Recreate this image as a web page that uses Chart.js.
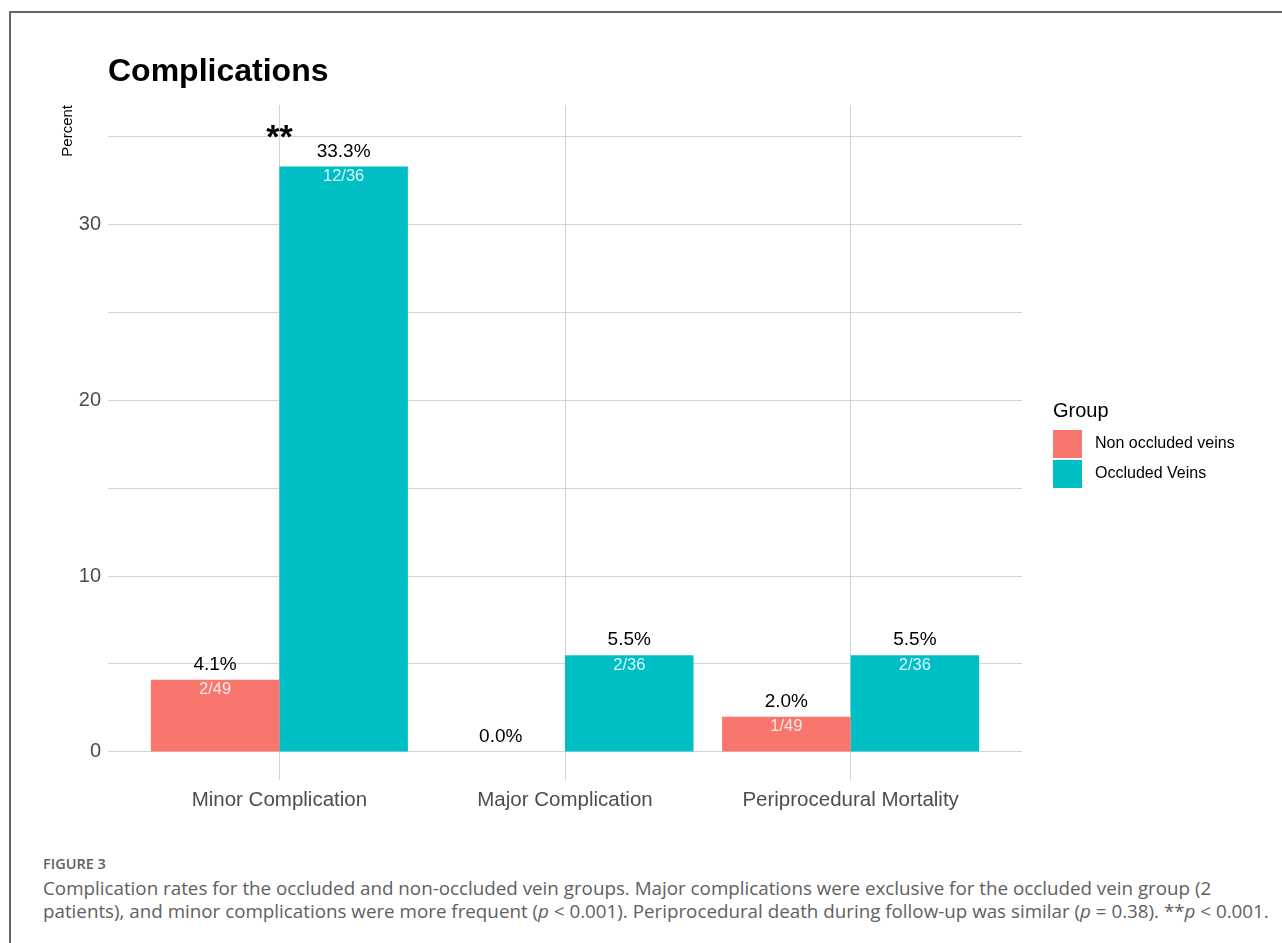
<!DOCTYPE html>
<html><head><meta charset="utf-8">
<script src="https://cdn.jsdelivr.net/npm/chart.js@4/dist/chart.umd.min.js"></script>
<style>
html,body{margin:0;padding:0;background:#fff;width:1282px;height:943px;overflow:hidden;}
#frame{position:absolute;left:9px;top:11px;width:1300px;height:960px;border-top:2px solid #666;border-left:2px solid #666;}
#wrap{position:absolute;left:0;top:0;width:1282px;height:830px;}
#cap{position:absolute;left:43px;top:855px;font-family:"Open Sans",sans-serif;color:#606060;white-space:nowrap;}
#cap .fig{font-size:14.5px;line-height:18px;font-weight:600;margin-bottom:3.5px;}
#cap .txt{font-size:18.8px;line-height:23px;}
</style></head>
<body>
<div id="frame"></div>
<div id="wrap"><canvas id="c" width="1282" height="830"></canvas></div>
<div id="cap">
<div class="fig">FIGURE 3</div>
<div class="txt">Complication rates for the occluded and non-occluded vein groups. Major complications were exclusive for the occluded vein group (2<br>patients), and minor complications were more frequent (<i>p</i> &lt; 0.001). Periprocedural death during follow-up was similar (<i>p</i> = 0.38). **<i>p</i> &lt; 0.001.</div>
</div>
<script>
const chartTitle = 'Complications';
const categories = ['Minor Complication', 'Major Complication', 'Periprocedural Mortality'];
const seriesNames = ['Non occluded veins', 'Occluded Veins'];
const seriesColors = ['#F8766D', '#00BFC4'];
const nonOccluded = [4.1, 0.0, 2.0];
const occluded = [33.3, 5.5, 5.5];
const nonOccludedCounts = ['2/49', '', '1/49'];
const occludedCounts = ['12/36', '2/36', '2/36'];
const significance = ['**', '', ''];
const yGridValues = [0, 5, 10, 15, 20, 25, 30, 35];
const yTickLabels = [0, 10, 20, 30];
const yMin = -1.6, yMax = 36.8;

const FONT = '"Liberation Sans", Arial, sans-serif';

const seriesValues = [nonOccluded, occluded];
const seriesCounts = [nonOccludedCounts, occludedCounts];

const datasets = seriesNames.map((name, s) => ({
  label: name,
  data: seriesValues[s].map((v, i) => ({x: i, y: v})),
  backgroundColor: seriesColors[s],
  borderWidth: 0,
  barPercentage: 1.0,
  categoryPercentage: 0.9,
  counts: seriesCounts[s]
}));

const decor = {
  id: 'decor',
  afterDatasetsDraw(chart) {
    const ctx = chart.ctx;
    ctx.save();
    ctx.textAlign = 'center';
    ctx.textBaseline = 'middle';
    chart.data.datasets.forEach((ds, di) => {
      const meta = chart.getDatasetMeta(di);
      meta.data.forEach((bar, i) => {
        const v = ds.data[i].y;
        ctx.fillStyle = '#000';
        ctx.font = '19px ' + FONT;
        ctx.fillText(v.toFixed(1) + '%', bar.x, bar.y - 15);
        if (ds.counts[i]) {
          ctx.fillStyle = 'rgba(255,255,255,0.85)';
          ctx.font = '16.5px ' + FONT;
          ctx.fillText(ds.counts[i], bar.x, bar.y + 10);
        }
      });
    });
    const xs = chart.scales.x;
    significance.forEach((mark, i) => {
      if (!mark) return;
      let top = Infinity;
      chart.data.datasets.forEach((ds, di) => {
        const b = chart.getDatasetMeta(di).data[i];
        top = Math.min(top, b.y);
      });
      ctx.fillStyle = '#000';
      ctx.font = 'bold 34px ' + FONT;
      ctx.textBaseline = 'alphabetic';
      ctx.fillText(mark, xs.getPixelForValue(i), top - 19);
    });
    ctx.restore();
  },
  afterDraw(chart) {
    const ctx = chart.ctx;
    const ca = chart.chartArea;
    ctx.save();
    ctx.fillStyle = '#000';
    ctx.font = 'bold 32px ' + FONT;
    ctx.textAlign = 'left';
    ctx.textBaseline = 'alphabetic';
    ctx.fillText(chartTitle, ca.left, 81);
    const lx = ca.right + 31;
    ctx.font = '20px ' + FONT;
    ctx.textBaseline = 'middle';
    ctx.fillText('Group', lx, 411);
    chart.data.datasets.forEach((ds, di) => {
      const y = 430 + di * 30;
      ctx.fillStyle = ds.backgroundColor;
      ctx.fillRect(lx, y, 29, 28);
      ctx.fillStyle = '#000';
      ctx.font = '16px ' + FONT;
      ctx.fillText(ds.label, lx + 42, y + 14);
    });
    ctx.restore();
  }
};

new Chart(document.getElementById('c'), {
  type: 'bar',
  data: {datasets},
  options: {
    responsive: false,
    animation: false,
    events: [],
    layout: {padding: {top: 105, right: 260, left: 0, bottom: 0}},
    plugins: {legend: {display: false}, title: {display: false}, tooltip: {enabled: false}},
    scales: {
      x: {
        type: 'linear',
        min: -0.6, max: 2.6,
        offset: false,
        grid: {offset: false, color: '#d4d4d4', lineWidth: 1, drawTicks: false},
        border: {display: false},
        afterBuildTicks: (s) => { s.ticks = categories.map((c, i) => ({value: i})); },
        afterFit: (s) => { s.height = 50; },
        ticks: {
          padding: 8,
          color: '#4d4d4d',
          font: {family: FONT, size: 20.5},
          maxRotation: 0, autoSkip: false,
          callback: (v) => categories[v] ?? ''
        }
      },
      y: {
        type: 'linear',
        min: yMin, max: yMax,
        grid: {color: '#d4d4d4', lineWidth: 1, drawTicks: false},
        border: {display: false},
        afterBuildTicks: (s) => { s.ticks = yGridValues.map(v => ({value: v})); },
        afterFit: (s) => { s.width = 108; },
        ticks: {
          padding: 7,
          color: '#4d4d4d',
          font: {family: FONT, size: 20},
          autoSkip: false,
          callback: (v) => yTickLabels.includes(v) ? String(v) : ''
        },
        title: {
          display: true, text: 'Percent', align: 'end', color: '#000',
          font: {family: FONT, size: 15},
          padding: {top: 59, bottom: 0}
        }
      }
    }
  },
  plugins: [decor]
});
</script>
</body></html>
